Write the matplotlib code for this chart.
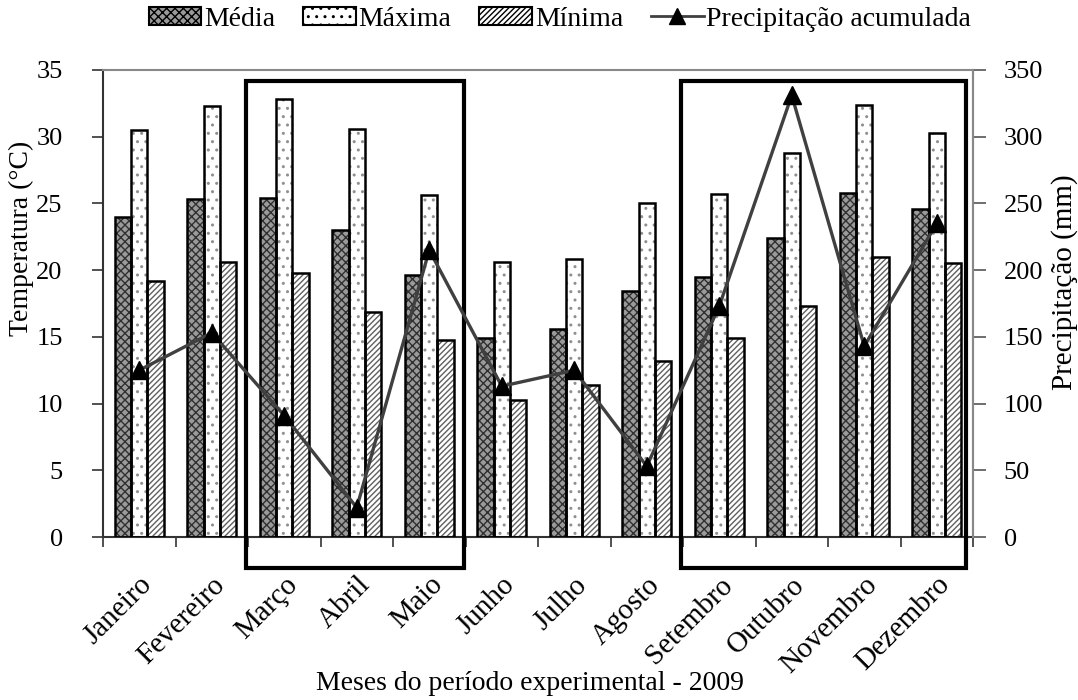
import matplotlib
matplotlib.use("Agg")
import matplotlib.pyplot as plt
import numpy as np
from matplotlib.patches import Rectangle, Patch
from matplotlib.lines import Line2D

plt.rcParams['font.family'] = ['Liberation Serif', 'DejaVu Serif']
plt.rcParams['hatch.linewidth'] = 1.0

meses = ["Janeiro", "Fevereiro", "Março", "Abril", "Maio", "Junho", "Julho",
         "Agosto", "Setembro", "Outubro", "Novembro", "Dezembro"]
media = [24.0, 25.3, 25.4, 23.0, 19.6, 14.9, 15.6, 18.4, 19.5, 22.4, 25.8, 24.6]
maxima = [30.5, 32.3, 32.8, 30.6, 25.6, 20.6, 20.8, 25.0, 25.7, 28.8, 32.4, 30.3]
minima = [19.2, 20.6, 19.8, 16.9, 14.8, 10.3, 11.4, 13.2, 14.9, 17.3, 21.0, 20.5]
precip = [125, 153, 91, 22, 215, 113, 125, 53, 173, 331, 143, 235]

temp_ticks = [0, 5, 10, 15, 20, 25, 30, 35]
prec_ticks = [0, 50, 100, 150, 200, 250, 300, 350]

fig = plt.figure(figsize=(10.78, 7), dpi=100)
fig.patch.set_facecolor('white')
ax = fig.add_axes([103/1078, 1-537/700, 870/1078, 467/700])

x = np.arange(len(meses))
w = 0.225

def hbar(xpos, vals, face, hatch, hcol):
    ax.bar(xpos, vals, w, color=face, hatch=hatch, edgecolor=hcol, linewidth=0, zorder=2)
    ax.bar(xpos, vals, w, fill=False, edgecolor='black', linewidth=1.8, zorder=3)

hbar(x - w, media, '#9a9a9a', 'xxxx', '#303030')
hbar(x, maxima, 'white', '..', '#909090')
hbar(x + w, minima, 'white', '//////', '#606060')

ax.set_xlim(-0.5, len(meses) - 0.5)
ax.set_ylim(0, 35)
ax.set_yticks(temp_ticks)
ax.set_xticks(x)
ax.set_xticklabels(meses, rotation=45, ha='right', rotation_mode='anchor', fontsize=21)
ax.set_xticks(np.arange(-0.5, len(meses)), minor=True)
ax.tick_params(axis='x', which='major', length=0, pad=25)
ax.tick_params(axis='x', which='minor', length=7, width=1.2, direction='out', color='#333333')
ax.tick_params(axis='y', length=8, width=1.2, direction='out', labelsize=19,
               color='#333333', pad=21)

ax.set_ylabel("Temperatura (°C)", fontsize=20)
ax.yaxis.set_label_coords((34-103)/870, (537-238)/467)
ax.set_xlabel("Meses do período experimental - 2009", fontsize=20)
ax.xaxis.set_label_coords((530-103)/870, (537-671)/467)

for s in ['top', 'right']:
    ax.spines[s].set_color('#888888')
    ax.spines[s].set_linewidth(1.5)
for s in ['left', 'bottom']:
    ax.spines[s].set_color('#333333')
    ax.spines[s].set_linewidth(1.5)

ax2 = ax.twinx()
ax2.plot(x, precip, color='#404040', linewidth=2.4, marker='^', markersize=13,
         markerfacecolor='black', markeredgecolor='black', zorder=5)
ax2.set_ylim(0, 350)
ax2.set_yticks(prec_ticks)
ax2.tick_params(axis='y', length=9, width=1.2, direction='out', labelsize=19,
                color='#555555', pad=13)
ax2.set_ylabel("Precipitação (mm)", fontsize=21)
ax2.yaxis.set_label_coords((1051-103)/870, (537-282)/467)
for s in ax2.spines.values():
    s.set_visible(False)
ax2.spines['right'].set_visible(True)
ax2.spines['right'].set_color('#888888')
ax2.spines['right'].set_linewidth(1.5)

# highlight boxes
for x0, x1 in [(1.472, 4.479), (7.472, 11.403)]:
    ax.add_patch(Rectangle((x0, -2.32), x1 - x0, 34.18 + 2.32, fill=False,
                           edgecolor='black', linewidth=3, clip_on=False, zorder=6))

handles = [
    Patch(facecolor='#9a9a9a', edgecolor='black', hatch='xxxx', linewidth=1.5),
    Patch(facecolor='white', edgecolor='black', hatch='..', linewidth=1.5),
    Patch(facecolor='white', edgecolor='black', hatch='//////', linewidth=1.5),
    Line2D([0], [0], color='#404040', linewidth=2, marker='^', markersize=12,
           markerfacecolor='black', markeredgecolor='black'),
]
labels = ["Média", "Máxima", "Mínima", "Precipitação acumulada"]
fig.legend(handles, labels, loc='center', bbox_to_anchor=(560/1078, 1-19/700), ncol=4,
           frameon=False, fontsize=20, handlelength=1.9, handleheight=0.6,
           handletextpad=0.1, columnspacing=1.0, borderpad=0)

fig.savefig("out.png", dpi=100, facecolor='white')
